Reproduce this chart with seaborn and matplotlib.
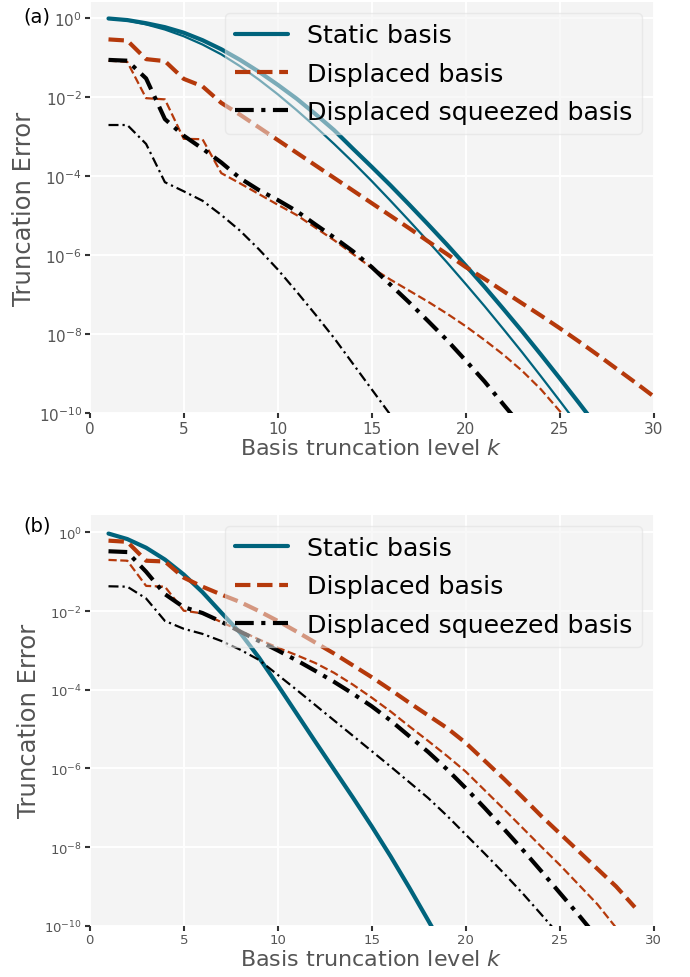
import numpy as np
import pandas as pd
import matplotlib
matplotlib.use("Agg")
import matplotlib.pyplot as plt
import seaborn as sns
from matplotlib.ticker import FixedLocator, LogFormatterSciNotation

# ---------------- data (log10 of truncation error, k = 1, 2, 3, ...) ----------------
series_labels = ["Static basis", "Displaced basis", "Displaced squeezed basis"]
x_ticks = [0, 5, 10, 15, 20, 25, 30]
y_ticks_exp = [0, -2, -4, -6, -8, -10]

# panel (a)
a_static_thick = [0.0, -0.04, -0.12, -0.22, -0.36, -0.55, -0.78, -1.05, -1.35, -1.68,
                  -2.03, -2.42, -2.83, -3.30, -3.76, -4.23, -4.72, -5.22, -5.73, -6.26,
                  -6.80, -7.36, -7.93, -8.52, -9.12, -9.73, -10.35]
a_static_thin = [0.0, -0.05, -0.15, -0.28, -0.45, -0.66, -0.91, -1.21, -1.55, -1.92,
                 -2.32, -2.74, -3.18, -3.64, -4.12, -4.62, -5.13, -5.65, -6.18, -6.73,
                 -7.29, -7.87, -8.46, -9.07, -9.69, -10.32]
a_disp_thick = [-0.53, -0.56, -1.03, -1.08, -1.53, -1.72, -2.14, -2.44, -2.76, -3.08,
                -3.40, -3.72, -4.04, -4.36, -4.68, -5.00, -5.32, -5.65, -5.97, -6.30,
                -6.60, -6.91, -7.22, -7.53, -7.85, -8.18, -8.52, -8.87, -9.22, -9.58]
a_disp_thin = [-1.07, -1.10, -2.02, -2.05, -3.05, -3.06, -3.92, -4.18, -4.45, -4.72,
               -4.98, -5.30, -5.62, -5.97, -6.32, -6.62, -6.90, -7.18, -7.48, -7.80,
               -8.15, -8.52, -8.93, -9.40, -9.95, -10.5]
a_sq_thick = [-1.05, -1.07, -1.52, -2.55, -2.97, -3.30, -3.65, -4.05, -4.35, -4.60,
              -4.88, -5.22, -5.55, -5.90, -6.30, -6.75, -7.20, -7.67, -8.15, -8.67,
              -9.20, -9.78, -10.35]
a_sq_thin = [-2.70, -2.70, -3.18, -4.15, -4.38, -4.62, -4.98, -5.38, -5.85, -6.36,
             -6.92, -7.50, -8.10, -8.75, -9.40, -10.05]

# panel (b)
b_static_thick = [-0.03, -0.17, -0.39, -0.69, -1.07, -1.52, -2.04, -2.55, -3.18, -3.88,
                  -4.60, -5.32, -6.03, -6.74, -7.47, -8.23, -9.03, -9.86, -10.7]
b_disp_thick = [-0.21, -0.24, -0.72, -0.74, -1.15, -1.38, -1.58, -1.77, -2.00, -2.25,
                -2.52, -2.80, -3.08, -3.38, -3.68, -4.00, -4.33, -4.65, -4.97, -5.35,
                -5.80, -6.25, -6.72, -7.20, -7.65, -8.10, -8.55, -9.00, -9.53]
b_disp_thin = [-0.70, -0.72, -1.36, -1.38, -1.99, -2.06, -2.28, -2.50, -2.72, -2.93,
               -3.12, -3.32, -3.57, -3.87, -4.20, -4.55, -4.93, -5.30, -5.68, -6.08,
               -6.55, -7.02, -7.50, -7.98, -8.45, -8.95, -9.45, -10.05]
b_sq_thick = [-0.48, -0.50, -1.00, -1.57, -1.90, -2.05, -2.27, -2.52, -2.76, -3.00,
              -3.25, -3.52, -3.80, -4.10, -4.42, -4.78, -5.18, -5.58, -6.02, -6.50,
              -7.00, -7.52, -8.05, -8.60, -9.16, -9.72, -10.3]
b_sq_thin = [-1.37, -1.38, -1.68, -2.25, -2.45, -2.58, -2.76, -2.98, -3.24, -3.62,
             -4.00, -4.39, -4.78, -5.17, -5.56, -5.95, -6.35, -6.75, -7.20, -7.68,
             -8.16, -8.65, -9.16, -9.70, -10.25]

# ---------------- style ----------------
TEAL = "#00637c"
RED = "#b5390b"
BLACK = "#000000"
BG = "#f4f4f4"
LABEL_GRAY = "#555555"

sns.set_theme(style="darkgrid", rc={
    "axes.facecolor": BG,
    "grid.color": "white",
    "grid.linewidth": 1.4,
    "xtick.bottom": True,
    "ytick.left": True,
    "xtick.color": "#333333",
    "ytick.color": "#333333",
    "xtick.major.size": 3.5,
    "ytick.major.size": 3.5,
    "xtick.major.width": 1.5,
    "ytick.major.width": 1.5,
    "axes.spines.left": False,
    "axes.spines.bottom": False,
    "axes.spines.right": False,
    "axes.spines.top": False,
})
plt.rcParams["font.family"] = ["DejaVu Sans"]
plt.rcParams["mathtext.fontset"] = "dejavusans"

DASHED = (0, (3.7, 1.6))
DASHDOT = (0, (4.5, 1.8, 1.0, 1.8))
LW_THICK = 3.0
LW_THIN = 1.6

fig = plt.figure(figsize=(6.9, 9.78), dpi=100)
left = 89.7 / 690
width = 564.0 / 690
ax_a = fig.add_axes([left, 1 - 414 / 978, width, 411 / 978])
ax_b = fig.add_axes([left, 1 - 926.8 / 978, width, 411 / 978])


def draw(ax, vals, color, lw, ls, label):
    k = np.arange(1, len(vals) + 1)
    df = pd.DataFrame({"k": k, "err": 10.0 ** np.asarray(vals)})
    sns.lineplot(data=df, x="k", y="err", ax=ax, color=color, linewidth=lw,
                 linestyle=ls, label=label, legend=False)


panels = [
    (ax_a, [(a_static_thick, TEAL, LW_THICK, "-", series_labels[0]),
            (a_static_thin, TEAL, LW_THIN, "-", "_a1"),
            (a_disp_thick, RED, LW_THICK, DASHED, series_labels[1]),
            (a_disp_thin, RED, LW_THIN, DASHED, "_a2"),
            (a_sq_thick, BLACK, LW_THICK, DASHDOT, series_labels[2]),
            (a_sq_thin, BLACK, LW_THIN, DASHDOT, "_a3")],
     0.418, 11, "(a)", 1 - 17 / 978),
    (ax_b, [(b_static_thick, TEAL, LW_THICK, "-", series_labels[0]),
            (b_disp_thick, RED, LW_THICK, DASHED, series_labels[1]),
            (b_disp_thin, RED, LW_THIN, DASHED, "_b2"),
            (b_sq_thick, BLACK, LW_THICK, DASHDOT, series_labels[2]),
            (b_sq_thin, BLACK, LW_THIN, DASHDOT, "_b3")],
     0.447, 9.5, "(b)", 1 - 526 / 978),
]

for ax, lines, top_exp, tick_fs, tag, tag_y in panels:
    for vals, color, lw, ls, label in lines:
        draw(ax, vals, color, lw, ls, label)
    ax.set_yscale("log")
    ax.set_xlim(0, 30)
    ax.set_ylim(1e-10, 10 ** top_exp)
    ax.yaxis.set_major_locator(FixedLocator([10.0 ** e for e in y_ticks_exp]))
    ax.yaxis.set_major_formatter(LogFormatterSciNotation())
    ax.yaxis.set_minor_locator(FixedLocator([]))
    ax.set_xticks(x_ticks)
    ax.tick_params(axis="both", labelsize=tick_fs, labelcolor=LABEL_GRAY, pad=2)
    ax.set_xlabel("Basis truncation level $k$", fontsize=16, color=LABEL_GRAY, labelpad=2)
    ax.set_ylabel("Truncation Error", fontsize=17.5, color=LABEL_GRAY, labelpad=2)
    ax.grid(True, which="major")
    handles, labels = ax.get_legend_handles_labels()
    leg = ax.legend(handles, labels, loc="upper right", fontsize=18.2, frameon=True,
                    fancybox=True, framealpha=0.5, facecolor=BG, edgecolor="#dddddd",
                    handlelength=2.1, handletextpad=0.75, labelspacing=0.56,
                    borderpad=0.4, borderaxespad=0.45)
    for t in leg.get_texts():
        t.set_color("black")
    fig.text(37 / 690, tag_y, tag, fontsize=14, ha="center", va="center", color="black")

fig.savefig("out.png", dpi=100, facecolor="white")
